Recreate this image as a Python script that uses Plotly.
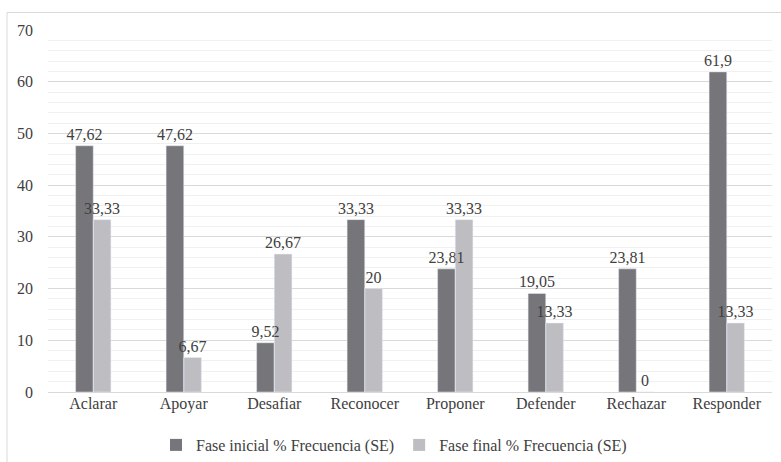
import plotly.graph_objects as go

categorias = ["Aclarar", "Apoyar", "Desafiar", "Reconocer", "Proponer",
              "Defender", "Rechazar", "Responder"]
fase_inicial = [47.62, 47.62, 9.52, 33.33, 23.81, 19.05, 23.81, 61.9]
fase_final = [33.33, 6.67, 26.67, 20, 33.33, 13.33, 0, 13.33]
nombres = ["Fase inicial % Frecuencia (SE)", "Fase final % Frecuencia (SE)"]
y_ticks = [0, 10, 20, 30, 40, 50, 60, 70]


def etiqueta(v):
    # decimal comma, no trailing zeros
    return ("%g" % v).replace(".", ",")


FUENTE = "Times New Roman, Liberation Serif, Tinos, DejaVu Serif, serif"
TEXTO = "#404040"
letra = dict(family=FUENTE, size=16, color=TEXTO)

series = [(nombres[0], fase_inicial, "#76767a", "ini"),
          (nombres[1], fase_final, "#bebec2", "fin")]

fig = go.Figure()
# visible bars
for nombre, valores, color, grupo in series:
    fig.add_trace(go.Bar(
        x=categorias, y=valores, name=nombre, offsetgroup=grupo,
        marker=dict(color=color, line=dict(width=0)),
    ))
# value labels on transparent copies, drawn after all bars so none is covered
for nombre, valores, color, grupo in series:
    fig.add_trace(go.Bar(
        x=categorias, y=valores, offsetgroup=grupo, showlegend=False,
        hoverinfo="skip", marker=dict(color="rgba(0,0,0,0)"),
        text=[etiqueta(v) for v in valores],
        textposition="outside", cliponaxis=False, constraintext="none",
        textfont=letra, outsidetextfont=letra,
    ))

fig.update_layout(
    width=781, height=462,
    margin=dict(l=48, r=9, t=30, b=70, autoexpand=False),
    paper_bgcolor="white", plot_bgcolor="white",
    barmode="group", bargap=0.61, bargroupgap=0,
    font=letra,
    showlegend=True,
    legend=dict(orientation="h", xref="container", yref="container",
                x=394 / 781, xanchor="center", y=(462 - 445) / 462,
                yanchor="middle", font=letra, itemwidth=30,
                traceorder="normal"),
    xaxis=dict(showgrid=False, showline=False, ticks="", ticklen=0,
               tickfont=letra),
    yaxis=dict(range=[0, 70], tickvals=y_ticks, showgrid=True,
               gridcolor="#d9d9d9", gridwidth=1, zeroline=True,
               zerolinecolor="#d9d9d9", zerolinewidth=1, showline=False,
               ticks="", ticklabelstandoff=14,
               minor=dict(dtick=2, showgrid=True, gridcolor="#f0f0f0",
                          gridwidth=1),
               tickfont=letra),
    shapes=[dict(type="rect", xref="paper", yref="paper",
                 x0=(7 - 48) / 724, x1=(790 - 48) / 724,
                 y0=(392 - 470) / 362, y1=(392 - 12.5) / 362,
                 line=dict(color="#d9d9d9", width=1), layer="below")],
)

fig.write_html("out.html")
